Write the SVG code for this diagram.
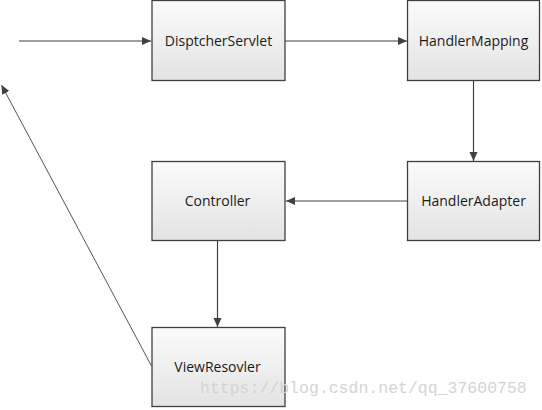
<svg xmlns="http://www.w3.org/2000/svg" width="542" height="410" viewBox="0 0 542 410">
<defs>
<linearGradient id="g" x1="0" y1="0" x2="0" y2="1">
<stop offset="0" stop-color="#fbfbfb"/>
<stop offset="1" stop-color="#e3e3e3"/>
</linearGradient>
<marker id="a" markerWidth="10" markerHeight="10" refX="9" refY="5" orient="auto" markerUnits="userSpaceOnUse">
<path d="M0,1 L9,5 L0,9 z" fill="#404040"/>
</marker>
<style>
.box{fill:url(#g);stroke:#404040;stroke-width:1.3}
.lbl{font-family:"Open Sans","Liberation Sans",sans-serif;font-size:14px;fill:#1a1a1a;text-anchor:middle}
.c{stroke:#404040;stroke-width:1.2;fill:none;marker-end:url(#a)}
</style>
</defs>
<rect width="542" height="410" fill="#ffffff"/>
<g id="connectors">
<line class="c" x1="19" y1="41" x2="151" y2="41"/>
<line class="c" x1="285" y1="41" x2="407" y2="41"/>
<line class="c" x1="473.5" y1="80" x2="473.5" y2="161"/>
<line class="c" x1="407" y1="201" x2="286" y2="201"/>
<line class="c" x1="217.5" y1="240" x2="217.5" y2="327"/>
<line class="c" x1="151.5" y1="366" x2="1.5" y2="85" style="stroke-width:0.9"/>
</g>
<g id="dispatcherServlet">
<rect class="box" x="152" y="0.5" width="133" height="80"/>
<text class="lbl" x="218.5" y="46">DisptcherServlet</text>
</g>
<g id="handlerMapping">
<rect class="box" x="407.5" y="0.5" width="132" height="80"/>
<text class="lbl" x="473.5" y="46">HandlerMapping</text>
</g>
<g id="handlerAdapter">
<rect class="box" x="407.5" y="161.5" width="132" height="79"/>
<text class="lbl" x="473.5" y="206">HandlerAdapter</text>
</g>
<g id="controller">
<rect class="box" x="152" y="161.5" width="133" height="79"/>
<text class="lbl" x="217.5" y="206">Controller</text>
</g>
<g id="viewResovler">
<rect class="box" x="152" y="327.5" width="133" height="79"/>
<text class="lbl" x="217.5" y="372">ViewResovler</text>
</g>
<text x="200" y="393" style="font-family:'Liberation Mono',monospace;font-size:16.5px;fill:#d4d4d4">https://blog.csdn.net/qq_37600758</text>
</svg>
